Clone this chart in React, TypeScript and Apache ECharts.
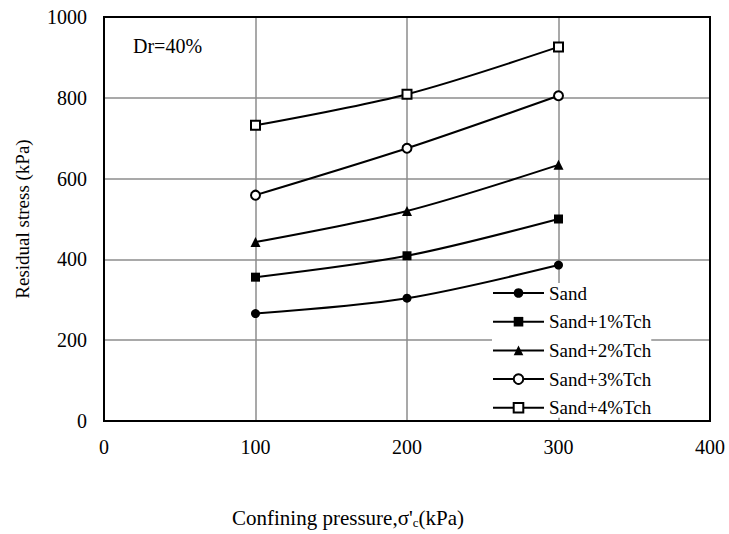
import React, { useEffect, useRef } from "react";
import * as echarts from "echarts";

const pressures = [100, 200, 300];
const sand = [266, 304, 386];
const sand1 = [356, 409, 500];
const sand2 = [443, 520, 634];
const sand3 = [559, 675, 805];
const sand4 = [732, 809, 926];
const seriesNames = ["Sand", "Sand+1%Tch", "Sand+2%Tch", "Sand+3%Tch", "Sand+4%Tch"];
const xTicks = [0, 100, 200, 300, 400];
const yTicks = [0, 200, 400, 600, 800, 1000];

const FONT = "Liberation Serif, Times New Roman, serif";

export default function App() {
  const ref = useRef<HTMLDivElement>(null);
  useEffect(() => {
    if (!ref.current) return;
    const chart = echarts.init(ref.current, undefined, { renderer: "svg" });
    const all = [sand, sand1, sand2, sand3, sand4];
    const symbols = ["circle", "rect", "triangle", "emptyCircle", "emptyRect"];
    const sizes = [9, 9, 10, 9, 9];
    const series = all.map((vals, i) => ({
      name: seriesNames[i],
      type: "line",
      smooth: 0.3,
      data: pressures.map((p, j) => [p, vals[j]]),
      symbol: symbols[i],
      symbolSize: sizes[i],
      lineStyle: { color: "#000", width: 2 },
      itemStyle: {
        color: "#000",
        borderColor: "#000",
        borderWidth: i >= 3 ? 1.5 : 0,
      },
      z: 3,
    }));
    chart.setOption({
      animation: false,
      textStyle: { fontFamily: FONT, color: "#000" },
      grid: {
        left: 104,
        right: 19,
        top: 17,
        bottom: 113,
        show: true,
        borderColor: "#000",
        borderWidth: 2,
        z: 2,
      },
      xAxis: {
        type: "value",
        min: 0,
        max: 400,
        interval: 100,
        axisLine: { show: false },
        axisTick: { show: false },
        splitLine: { show: true, lineStyle: { color: "#8c8c8c", width: 1.5 } },
        axisLabel: {
          fontSize: 20,
          color: "#000",
          margin: 16,
          fontFamily: FONT,
          formatter: (v: number) => (xTicks.includes(v) ? String(v) : ""),
        },
      },
      yAxis: {
        type: "value",
        min: 0,
        max: 1000,
        interval: 200,
        axisLine: { show: false },
        axisTick: { show: false },
        splitLine: { show: true, lineStyle: { color: "#8c8c8c", width: 1.5 } },
        axisLabel: {
          fontSize: 20,
          color: "#000",
          margin: 17,
          fontFamily: FONT,
          formatter: (v: number) => (yTicks.includes(v) ? String(v) : ""),
        },
        name: "Residual stress (kPa)",
        nameLocation: "middle",
        nameGap: 72,
        nameTextStyle: { fontSize: 19, color: "#000", fontFamily: FONT },
      },
      legend: {
        orient: "vertical",
        left: 492,
        top: 283,
        itemWidth: 51,
        itemHeight: 12,
        itemGap: 8.7,
        backgroundColor: "#fff",
        padding: 0,
        data: seriesNames,
        textStyle: { fontSize: 19, color: "#000", fontFamily: FONT, lineHeight: 20 },
      },
      graphic: [
        {
          type: "text",
          left: 133,
          top: 36,
          style: { text: "Dr=40%", fontSize: 20, fill: "#000", fontFamily: FONT },
          z: 10,
        },
        {
          type: "text",
          left: 232,
          top: 507,
          style: {
            text: "Confining pressure,σ'{sub|c}(kPa)",
            fontSize: 21,
            fill: "#000",
            fontFamily: FONT,
            rich: {
              sub: { fontSize: 13, fontFamily: FONT, fill: "#000", padding: [9, 0, 0, 0] },
            },
          },
        },
      ],
      series,
    });
    return () => chart.dispose();
  }, []);
  return <div ref={ref} style={{ width: 729, height: 534, position: "absolute", left: 0, top: 0 }} />;
}
